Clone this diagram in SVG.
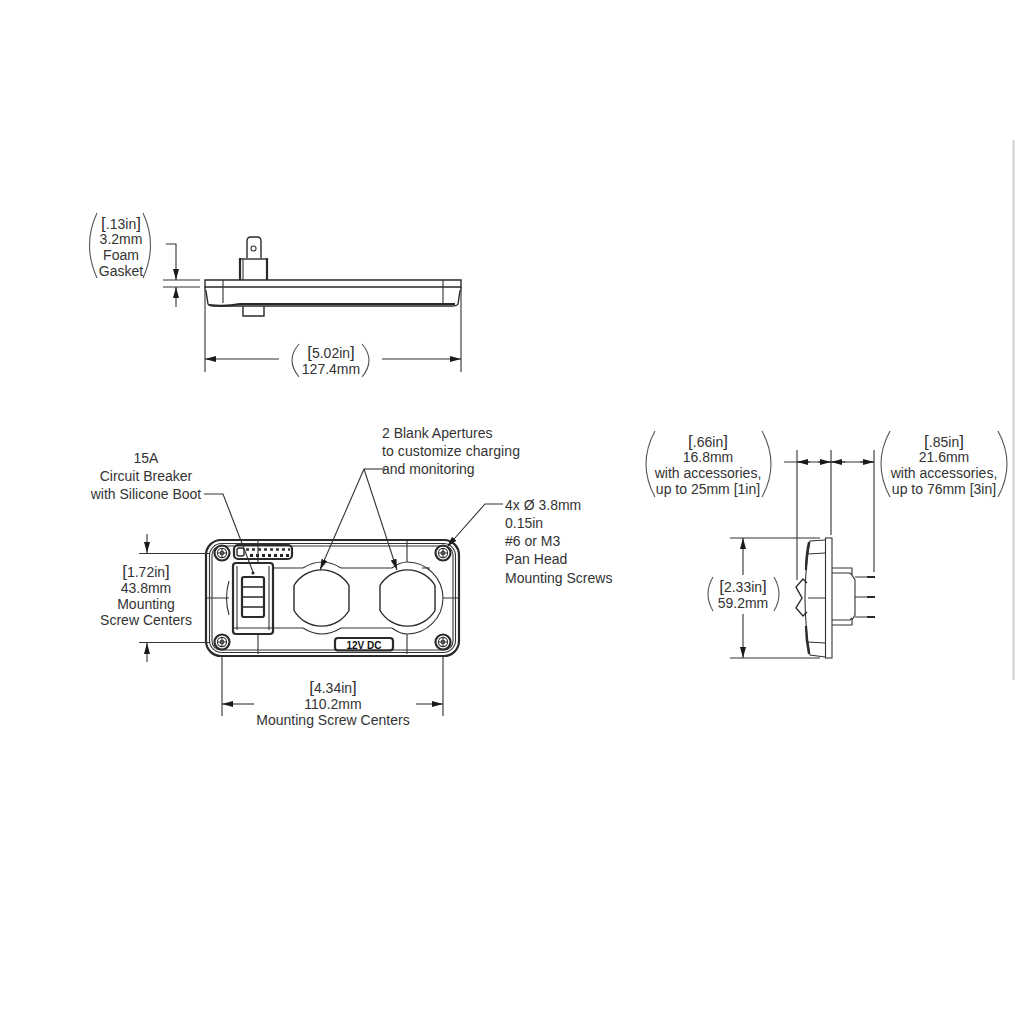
<svg xmlns="http://www.w3.org/2000/svg" width="1024" height="1024" viewBox="0 0 1024 1024">
<style>
text{font-family:"Liberation Sans",Arial,sans-serif;font-size:14px;fill:#333}
.c{text-anchor:middle}
.b{font-size:17px}
.l{fill:none;stroke:#333;stroke-width:1.1}
.m{fill:none;stroke:#2a2a2a;stroke-width:1.4}
.h{fill:none;stroke:#2a2a2a;stroke-width:2.2}
.p{fill:none;stroke:#555;stroke-width:1.1}
.a{marker-end:url(#ah)}
</style>
<defs>
<marker id="ah" markerUnits="userSpaceOnUse" markerWidth="12" markerHeight="8" refX="11" refY="3" orient="auto"><path d="M0 0L11 3L0 6Z" fill="#1a1a1a"/></marker>
<g id="screw"><circle r="7.500" class="h"/><circle r="4.600" class="l"/><circle r="1.800" class="l"/><path d="M-4 0H4M0-4V4" class="l"/></g>
</defs>
<rect width="1024" height="1024" fill="#fff"/>
<path d="M1013.500 140V680" stroke="#d0d0d0" stroke-width="2" fill="none"/>

<g id="top-view">
<path class="m" d="M205 280H461V287H205Z"/>
<path class="m" d="M205 287V291L206 291L208 304Q209 306 214 306H452Q457 306 458 304L460 291L461 291V287"/>
<path class="h" d="M209 305Q225 307 240 304H455"/>
<path class="l" d="M223 280V303M443 280V303"/>
<path class="m" d="M243 306V316H264V306"/>
<path class="h" d="M240 280V258M267 280V258"/>
<path class="m" d="M240 259H267"/>
<path class="l" d="M243 259V280"/>
<path class="m" d="M247 258V241Q247 237 251 237H257Q261 237 261 241V258"/>
<circle class="l" cx="253.500" cy="248.500" r="2.500"/>
</g>

<g id="front-view">
<rect class="h" x="206" y="540" width="253" height="116" rx="15"/>
<rect class="l" x="209.500" y="543.500" width="246" height="109" rx="12"/>
<rect class="l" x="212" y="546" width="241" height="104" rx="9"/>
<g id="label-strip">
<rect class="h" x="234" y="545" width="58" height="14" rx="4"/>
<path d="M246 549.500H290" stroke="#333" stroke-width="2.400" stroke-dasharray="3 3" fill="none"/>
<path d="M250 555.500H290" stroke="#222" stroke-width="3.200" stroke-dasharray="3 3" fill="none"/>
<rect class="m" x="237" y="548" width="7" height="8" rx="2"/>
</g>
<path class="l" d="M258 541V563M258 634V654M407 541V562M407 634V654M206 598H229M443 598H458M229 581Q224 598 229 615M273 568H303M341 568H392M422 568H430M273 628H303M341 628H392"/>
<path class="l" d="M303 568Q322 556 341 568M303 628Q322 640 341 628M392 568Q400 562 407 562A36 36 0 0 1 407 634Q400 634 392 628"/>
<g id="breaker">
<rect class="h" x="233" y="563" width="40" height="71" rx="3"/>
<path class="l" d="M237 566V630M269 566V630M233 628H273"/>
<rect class="h" x="242" y="577" width="22" height="40" rx="2"/>
<path class="m" d="M243 587H263M243 597H263M243 607H263"/>
</g>
<path id="aperture-1" class="m" d="M294 585.500A32 32 0 0 1 349 585.500V610.500A32 32 0 0 1 294 610.500Z"/>
<path id="aperture-2" class="m" d="M380 585.500A32 32 0 0 1 435 585.500V610.500A32 32 0 0 1 380 610.500Z"/>
<rect class="h" x="335" y="638" width="58" height="12.500" rx="3"/>
<text x="364" y="648.500" class="c" style="font-size:10px;font-weight:bold;fill:#111">12V DC</text>
<use href="#screw" x="222" y="553"/>
<use href="#screw" x="443" y="553"/>
<use href="#screw" x="222" y="642"/>
<use href="#screw" x="443" y="642"/>
</g>

<g id="side-view">
<rect class="l" x="825.500" y="538" width="6.500" height="120"/>
<path class="l" d="M825 540L810 541Q805 570 805 598Q805 626 810 655L825 657"/>
<path class="h" d="M809 542Q806 555 806 570M806 626Q806 640 809 654"/>
<path class="l" d="M808 554L825 553M808 598H825M808 642L825 643"/>
<path class="m" d="M807 583L803 579L796 587L802 598L796 608L803 616L807 612"/>
<path class="l" d="M832 568H852V575L855 580V615L852 620V625H832M832 573H850L852 575M832 620H850L852 618"/>
<path class="l" d="M855 577H868M855 597H868M855 617H868"/>
<path class="h" d="M867 577H875M867 597H875M867 617H875"/>
</g>

<g id="connectors">
<path class="l" d="M163 280H200M163 287H200"/>
<path class="l a" d="M166 244H176V280"/>
<path class="l a" d="M176 307V287"/>
<path class="l" d="M205 292V372M461 292V372"/>
<path class="l a" d="M279 359H205"/>
<path class="l a" d="M382 359H461"/>
<path class="l" d="M139 553.500H210M139 642.500H210"/>
<path class="l a" d="M147 534V553"/>
<path class="l a" d="M147 662V643"/>
<path class="l" d="M222 657V716M443 657V716"/>
<path class="l a" d="M254 704H222"/>
<path class="l a" d="M416 704H443"/>
<path class="l" d="M204 494H223L253 572"/>
<circle cx="253" cy="573" r="1.500" fill="#222"/>
<path class="l" d="M385 469H364"/>
<path class="l a" d="M364 469L320 570"/>
<path class="l a" d="M364 469L397 570"/>
<path class="l a" d="M503 504H485L447 547"/>
<path class="l" d="M797 450V580M831 450V535M874 450V572"/>
<path class="l" d="M784 462H874"/>
<path class="l a" d="M810 462H797"/>
<path class="l a" d="M818 462H831"/>
<path class="l a" d="M845 462H831"/>
<path class="l a" d="M860 462H874"/>
<path class="l" d="M730 538H820M730 658H820"/>
<path class="l a" d="M743 575V538"/>
<path class="l a" d="M743 614V658"/>
</g>

<g id="dim-gasket">
<path class="p" d="M97 213Q82 245 97 278M143 213Q158 245 143 278"/>
<text x="121" y="229" class="c"><tspan class="b">[</tspan>.13in<tspan class="b">]</tspan></text><text x="121" y="244" class="c">3.2mm</text><text x="121" y="260" class="c">Foam</text><text x="121" y="276" class="c">Gasket</text>
</g>
<g id="dim-width">
<path class="p" d="M299 344Q285 360 299 377M362 344Q376 360 362 377"/>
<text x="331" y="358" class="c"><tspan class="b">[</tspan>5.02in<tspan class="b">]</tspan></text><text x="331" y="374" class="c">127.4mm</text>
</g>
<g id="label-breaker">
<text x="146" y="463" class="c">15A</text><text x="146" y="481" class="c">Circuit Breaker</text><text x="146" y="499" class="c">with Silicone Boot</text>
</g>
<g id="label-apertures">
<text x="382" y="438">2 Blank Apertures</text><text x="382" y="456" textLength="138">to customize charging</text><text x="382" y="474">and monitoring</text>
</g>
<g id="label-screws">
<text x="505" y="510">4x Ø 3.8mm</text><text x="505" y="528">0.15in</text><text x="505" y="546">#6 or M3</text><text x="505" y="564">Pan Head</text><text x="505" y="583">Mounting Screws</text>
</g>
<g id="dim-height-screws">
<text x="146" y="577" class="c"><tspan class="b">[</tspan>1.72in<tspan class="b">]</tspan></text><text x="146" y="593" class="c">43.8mm</text><text x="146" y="609" class="c">Mounting</text><text x="146" y="625" class="c">Screw Centers</text>
</g>
<g id="dim-width-screws">
<text x="333" y="693" class="c"><tspan class="b">[</tspan>4.34in<tspan class="b">]</tspan></text><text x="333" y="709" class="c">110.2mm</text><text x="333" y="725" class="c">Mounting Screw Centers</text>
</g>
<g id="dim-front-depth">
<path class="p" d="M655 431Q637 464 655 497M762 431Q780 464 762 497"/>
<text x="708" y="447" class="c"><tspan class="b">[</tspan>.66in<tspan class="b">]</tspan></text><text x="708" y="462" class="c">16.8mm</text><text x="708" y="478" class="c">with accessories,</text><text x="708" y="494" class="c">up to 25mm [1in]</text>
</g>
<g id="dim-rear-depth">
<path class="p" d="M890 431Q872 464 890 497M998 431Q1016 464 998 497"/>
<text x="944" y="447" class="c"><tspan class="b">[</tspan>.85in<tspan class="b">]</tspan></text><text x="944" y="462" class="c">21.6mm</text><text x="944" y="478" class="c">with accessories,</text><text x="944" y="494" class="c">up to 76mm [3in]</text>
</g>
<g id="dim-height">
<path class="p" d="M713 577Q703 594 713 611M774 577Q784 594 774 611"/>
<text x="743" y="592" class="c"><tspan class="b">[</tspan>2.33in<tspan class="b">]</tspan></text><text x="743" y="608" class="c">59.2mm</text>
</g>
</svg>
